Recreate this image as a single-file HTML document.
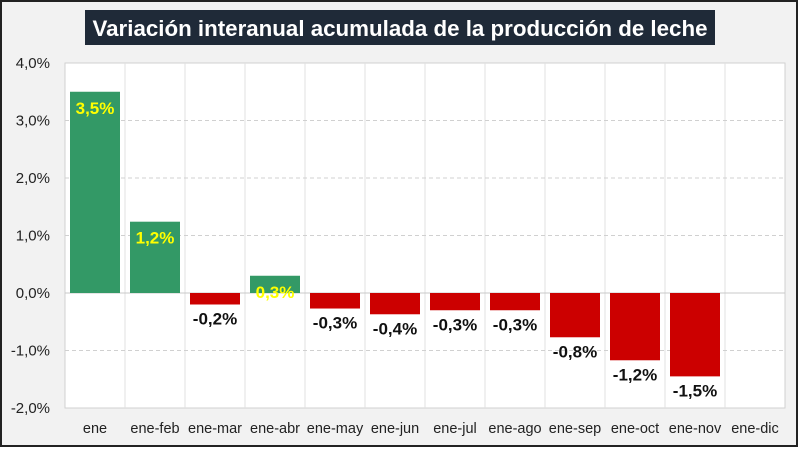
<!DOCTYPE html>
<html><head><meta charset="utf-8"><style>
body{margin:0;width:800px;height:448px;overflow:hidden;background:#fff;font-family:"Liberation Sans",sans-serif}
svg text{font-family:"Liberation Sans",sans-serif}
</style></head><body>
<svg id="c" width="800" height="448">
<rect x="1" y="1" width="796" height="445" fill="#f2f2f2" stroke="#222" stroke-width="2"/>
<rect x="85" y="10" width="630" height="35" fill="#1f2a38"/>
<text x="400" y="36" text-anchor="middle" fill="#fff" font-size="22.5" font-weight="bold" textLength="615" lengthAdjust="spacingAndGlyphs">Variación interanual acumulada de la producción de leche</text>
<rect x="65" y="63" width="720" height="345" fill="#fff" stroke="#d0d0d0"/>
<g id="g"></g>
</svg>
<script>
const categories=["ene","ene-feb","ene-mar","ene-abr","ene-may","ene-jun","ene-jul","ene-ago","ene-sep","ene-oct","ene-nov","ene-dic"];
const values=[3.5,1.24,-0.2,0.3,-0.27,-0.37,-0.3,-0.3,-0.77,-1.17,-1.45,null];
const labels=["3,5%","1,2%","-0,2%","0,3%","-0,3%","-0,4%","-0,3%","-0,3%","-0,8%","-1,2%","-1,5%",""];
const ticks=[4,3,2,1,0,-1,-2];
const tickLabels=["4,0%","3,0%","2,0%","1,0%","0,0%","-1,0%","-2,0%"];
const NS="http://www.w3.org/2000/svg",g=document.getElementById('g');
const L=65,W=720,T=63,H=345,ymax=4,ymin=-2;
const y=v=>T+(ymax-v)/(ymax-ymin)*H;
const cw=W/categories.length;
const x=i=>L+i*cw;
function mk(t,a){const e=document.createElementNS(NS,t);for(const k in a)e.setAttribute(k,a[k]);g.appendChild(e);return e;}
for(let i=1;i<categories.length;i++){const e=mk('line',{x1:x(i),x2:x(i),y1:T,y2:T+H,stroke:'#e0e0e0'});

}
ticks.forEach((t,i)=>{
 if(t!==ymax&&t!==ymin){const l=mk('line',{x1:L,x2:L+W,y1:y(t),y2:y(t),stroke:t===0?'#c8c8c8':'#d0d0d0','stroke-dasharray':t===0?'':'4,3'});
 
 }
 const tx=mk('text',{x:50,y:y(t)+5,'text-anchor':'end','font-size':15,fill:'#222'});tx.textContent=tickLabels[i];
 
 
});
categories.forEach((c,i)=>{
 const cx=x(i)+cw/2;
 const tx=mk('text',{x:cx,y:433,'text-anchor':'middle','font-size':14.5,fill:'#222'});tx.textContent=c;
 
 
 const v=values[i];if(v==null)return;
 const pos=v>=0;
 const r=mk('rect',{x:cx-25,width:50,y:Math.min(y(v),y(0)),height:Math.abs(y(v)-y(0)),fill:pos?'#339966':'#cc0000'});
 
 
 const lb=mk('text',{x:cx,y:pos?y(v)+22:y(v)+20,'text-anchor':'middle','font-size':17,'font-weight':'bold',fill:pos?'#ffff00':'#111'});
 lb.textContent=labels[i];
 
 
});
</script>
</body></html>
